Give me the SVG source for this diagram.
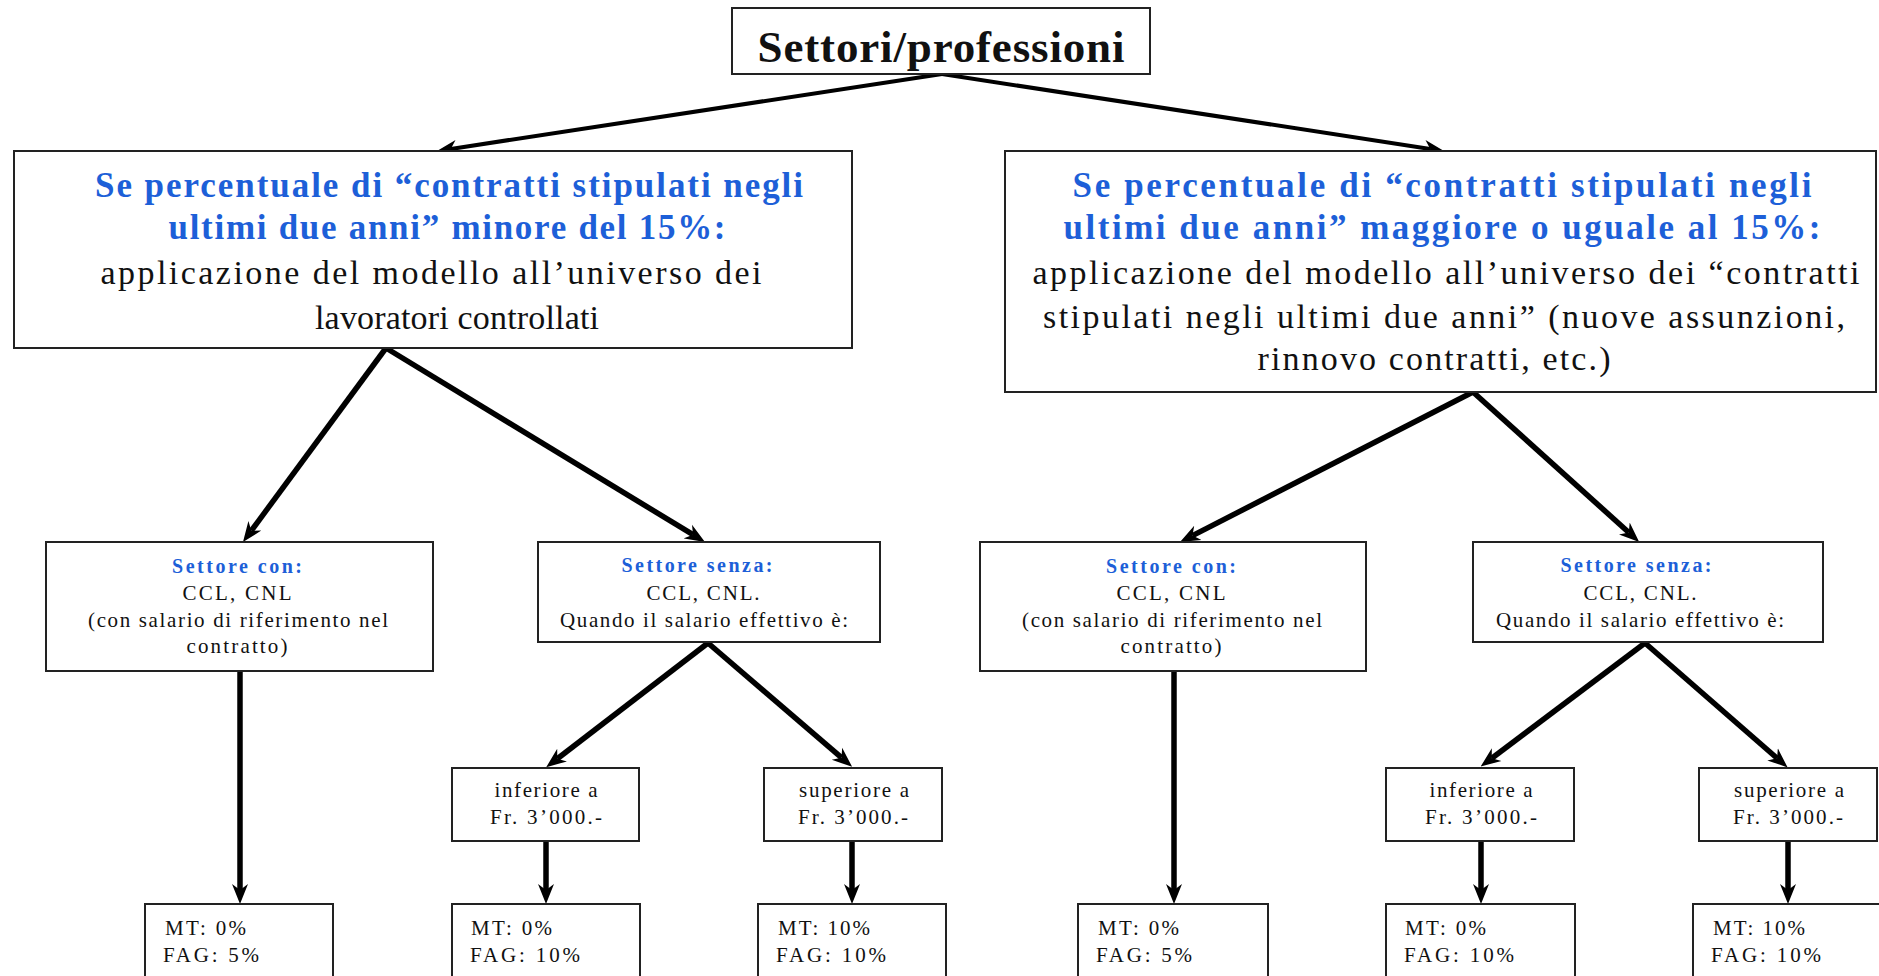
<svg xmlns="http://www.w3.org/2000/svg" width="1879" height="976" viewBox="0 0 1879 976">
<style>
.box{fill:#fff;stroke:#222;stroke-width:2}
.t{font-family:"Liberation Serif",serif;fill:#111;text-anchor:middle}
.b{font-family:"Liberation Serif",serif;font-weight:bold;fill:#1d5fd8;text-anchor:middle}
.l{font-family:"Liberation Serif",serif;fill:#111}
.e{stroke:#000;stroke-width:5.5;fill:none;marker-end:url(#ah)}
</style>
<defs>
<marker id="ah" viewBox="0 0 20 18" refX="6" refY="9" markerWidth="20" markerHeight="18" markerUnits="userSpaceOnUse" orient="auto">
<path d="M0,1 L20,9 L0,17 L6,9 Z" fill="#000"/>
</marker>
</defs>
<rect width="1879" height="976" fill="#fff"/>
<g id="connectors">
<line class="e" x1="942" y1="74" x2="450.8" y2="148.9" style="stroke-width:4"/>
<line class="e" x1="942" y1="74" x2="1430.2" y2="148.9" style="stroke-width:4"/>
<line class="e" x1="386" y1="348" x2="251.3" y2="530.7"/>
<line class="e" x1="386" y1="348" x2="693" y2="534.7"/>
<line class="e" x1="1473" y1="392" x2="1192.5" y2="535.6"/>
<line class="e" x1="1473" y1="392" x2="1628.8" y2="532.5"/>
<line class="e" x1="708" y1="643" x2="557.3" y2="758.7"/>
<line class="e" x1="708" y1="643" x2="841.5" y2="757.7"/>
<line class="e" x1="1645" y1="643" x2="1491.8" y2="758.2"/>
<line class="e" x1="1645" y1="643" x2="1777.1" y2="758.3"/>
<line class="e" x1="240" y1="671" x2="240" y2="890"/>
<line class="e" x1="546" y1="841" x2="546" y2="890"/>
<line class="e" x1="852" y1="841" x2="852" y2="890"/>
<line class="e" x1="1174" y1="671" x2="1174" y2="890"/>
<line class="e" x1="1481" y1="841" x2="1481" y2="890"/>
<line class="e" x1="1788" y1="841" x2="1788" y2="890"/>
</g>
<g id="n-top">
<rect class="box" x="732" y="8" width="418" height="66"/>
<text class="t" x="941" y="62" font-size="45" font-weight="bold" textLength="367">Settori/professioni</text>
</g>
<g id="n-left">
<rect class="box" x="14" y="151" width="838" height="197"/>
<text class="b" x="449" y="197" font-size="35" textLength="708">Se percentuale di “contratti stipulati negli</text>
<text class="b" x="447" y="239" font-size="35" textLength="557">ultimi due anni” minore del 15%:</text>
<text class="t" x="431" y="284" font-size="34" textLength="661">applicazione del modello all’universo dei</text>
<text class="t" x="457" y="329" font-size="34" textLength="284">lavoratori controllati</text>
</g>
<g id="n-right">
<rect class="box" x="1005" y="151" width="871" height="241"/>
<text class="b" x="1442" y="197" font-size="35" textLength="739">Se percentuale di “contratti stipulati negli</text>
<text class="b" x="1442" y="239" font-size="35" textLength="757">ultimi due anni” maggiore o uguale al 15%:</text>
<text class="t" x="1446" y="284" font-size="34" textLength="827">applicazione del modello all’universo dei “contratti</text>
<text class="t" x="1444" y="328" font-size="34" textLength="802">stipulati negli ultimi due anni” (nuove assunzioni,</text>
<text class="t" x="1434" y="370" font-size="34" textLength="353">rinnovo contratti, etc.)</text>
</g>
<g id="n-l-con">
<rect class="box" x="46" y="542" width="387" height="129"/>
<text class="b" x="237" y="573" font-size="20" textLength="130">Settore con:</text>
<text class="t" x="237" y="600" font-size="21" textLength="109">CCL, CNL</text>
<text class="t" x="238" y="627" font-size="21" textLength="300">(con salario di riferimento nel</text>
<text class="t" x="237" y="653" font-size="21" textLength="101">contratto)</text>
</g>
<g id="n-l-senza">
<rect class="box" x="538" y="542" width="342" height="100"/>
<text class="b" x="697" y="572" font-size="20" textLength="151">Settore senza:</text>
<text class="t" x="703" y="600" font-size="21" textLength="113">CCL, CNL.</text>
<text class="t" x="704" y="627" font-size="21" textLength="288">Quando il salario effettivo è:</text>
</g>
<g id="n-r-con">
<rect class="box" x="980" y="542" width="386" height="129"/>
<text class="b" x="1171" y="573" font-size="20" textLength="130">Settore con:</text>
<text class="t" x="1171" y="600" font-size="21" textLength="109">CCL, CNL</text>
<text class="t" x="1172" y="627" font-size="21" textLength="300">(con salario di riferimento nel</text>
<text class="t" x="1171" y="653" font-size="21" textLength="101">contratto)</text>
</g>
<g id="n-r-senza">
<rect class="box" x="1473" y="542" width="350" height="100"/>
<text class="b" x="1636" y="572" font-size="20" textLength="151">Settore senza:</text>
<text class="t" x="1640" y="600" font-size="21" textLength="113">CCL, CNL.</text>
<text class="t" x="1640" y="627" font-size="21" textLength="288">Quando il salario effettivo è:</text>
</g>
<g id="n-l-inf">
<rect class="box" x="452" y="768" width="187" height="73"/>
<text class="t" x="546" y="797" font-size="21" textLength="103">inferiore a</text>
<text class="t" x="546" y="824" font-size="21" textLength="112">Fr. 3’000.-</text>
</g>
<g id="n-l-sup">
<rect class="box" x="764" y="768" width="178" height="73"/>
<text class="t" x="854" y="797" font-size="21" textLength="110">superiore a</text>
<text class="t" x="853" y="824" font-size="21" textLength="110">Fr. 3’000.-</text>
</g>
<g id="n-r-inf">
<rect class="box" x="1386" y="768" width="188" height="73"/>
<text class="t" x="1481" y="797" font-size="21" textLength="103">inferiore a</text>
<text class="t" x="1481" y="824" font-size="21" textLength="112">Fr. 3’000.-</text>
</g>
<g id="n-r-sup">
<rect class="box" x="1699" y="768" width="178" height="73"/>
<text class="t" x="1789" y="797" font-size="21" textLength="110">superiore a</text>
<text class="t" x="1788" y="824" font-size="21" textLength="110">Fr. 3’000.-</text>
</g>
<g id="n-b1">
<rect class="box" x="145" y="904" width="188" height="90"/>
<text class="l" x="165" y="935" font-size="21" textLength="81">MT: 0%</text>
<text class="l" x="163" y="962" font-size="21" textLength="96">FAG: 5%</text>
</g>
<g id="n-b2">
<rect class="box" x="452" y="904" width="188" height="90"/>
<text class="l" x="471" y="935" font-size="21" textLength="81">MT: 0%</text>
<text class="l" x="470" y="962" font-size="21" textLength="110">FAG: 10%</text>
</g>
<g id="n-b3">
<rect class="box" x="758" y="904" width="188" height="90"/>
<text class="l" x="778" y="935" font-size="21" textLength="92">MT: 10%</text>
<text class="l" x="776" y="962" font-size="21" textLength="110">FAG: 10%</text>
</g>
<g id="n-b4">
<rect class="box" x="1078" y="904" width="190" height="90"/>
<text class="l" x="1098" y="935" font-size="21" textLength="81">MT: 0%</text>
<text class="l" x="1096" y="962" font-size="21" textLength="96">FAG: 5%</text>
</g>
<g id="n-b5">
<rect class="box" x="1386" y="904" width="189" height="90"/>
<text class="l" x="1405" y="935" font-size="21" textLength="81">MT: 0%</text>
<text class="l" x="1404" y="962" font-size="21" textLength="110">FAG: 10%</text>
</g>
<g id="n-b6">
<rect class="box" x="1693" y="904" width="200" height="90"/>
<text class="l" x="1713" y="935" font-size="21" textLength="92">MT: 10%</text>
<text class="l" x="1711" y="962" font-size="21" textLength="110">FAG: 10%</text>
</g>
</svg>
